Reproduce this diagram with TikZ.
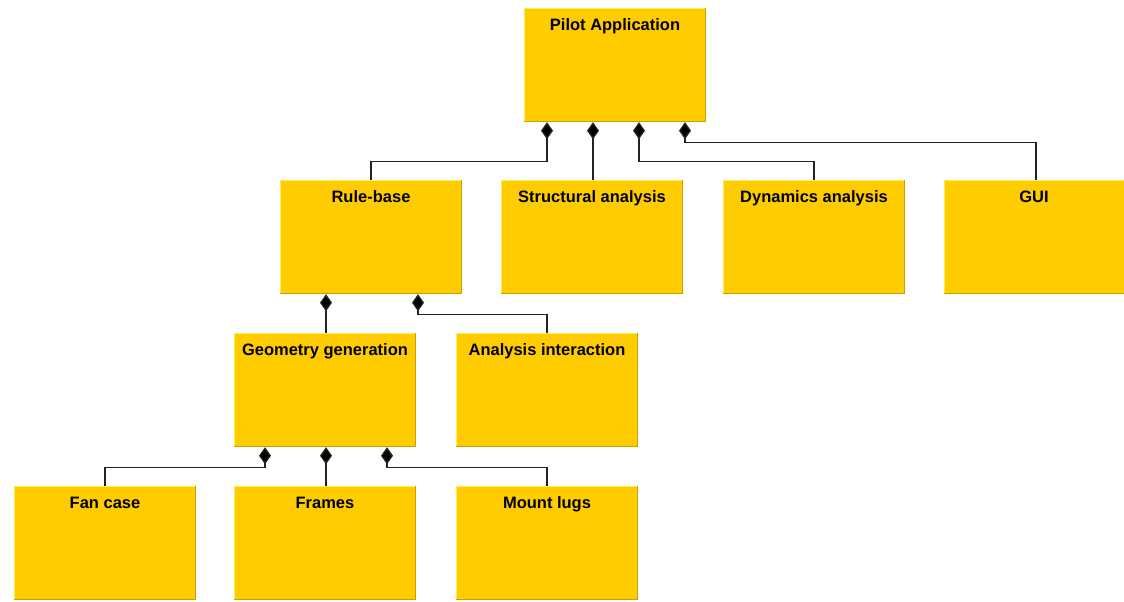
\documentclass[tikz,border=0pt]{standalone}
\usepackage{fontspec}
\setmainfont{Liberation Sans}
\usetikzlibrary{arrows.meta}
\definecolor{boxfill}{HTML}{FFCC00}
\definecolor{boxlight}{HTML}{FFEE55}
\definecolor{boxdark}{HTML}{C9A000}
\definecolor{conncol}{HTML}{222222}
\tikzset{
  box/.style={fill=boxfill, draw=none, minimum width=182pt, minimum height=114pt, inner sep=0pt},
  title/.style={anchor=base, font=\fontsize{16.5}{20}\selectfont\bfseries, text=black, inner sep=0pt},
  conn/.style={draw=conncol, line width=1.3pt},
  comp/.style={conn, {Diamond[length=17pt,width=12pt,fill=black]}-},
}
\begin{document}
\begin{tikzpicture}
\useasboundingbox (0pt,0pt) rectangle (1124pt,-602pt);
% boxes
\node[box] (pilot) at (615pt,-65pt) {};
\node[box] (rule) at (371pt,-237pt) {};
\node[box] (struct) at (592pt,-237pt) {};
\node[box] (dyn) at (814pt,-237pt) {};
\node[box] (gui) at (1035pt,-237pt) {};
\node[box] (geom) at (325pt,-390pt) {};
\node[box] (anal) at (547pt,-390pt) {};
\node[box] (fan) at (105pt,-543pt) {};
\node[box] (frames) at (325pt,-543pt) {};
\node[box] (mount) at (547pt,-543pt) {};
\foreach \n in {pilot,rule,struct,dyn,gui,geom,anal,fan,frames,mount}{
  \draw[boxlight, line width=1pt] ([shift={(0.5pt,0.5pt)}]\n.south west) |- ([shift={(-0.5pt,-0.5pt)}]\n.north east);
  \draw[boxdark, line width=1pt] ([shift={(0.5pt,0.5pt)}]\n.south west) -| ([shift={(-0.5pt,-0.5pt)}]\n.north east);
}
% titles
\node[title] (tpilot) at ([yshift=-23pt]pilot.north) {Pilot Application};
\node[title] (trule) at ([yshift=-23pt]rule.north) {Rule-base};
\node[title] (tstruct) at ([yshift=-23pt]struct.north) {Structural analysis};
\node[title] (tdyn) at ([yshift=-23pt]dyn.north) {Dynamics analysis};
\node[title] (tgui) at ([yshift=-23pt,xshift=-1pt]gui.north) {GUI};
\node[title] (tgeom) at ([yshift=-23pt]geom.north) {Geometry generation};
\node[title] (tanal) at ([yshift=-23pt]anal.north) {Analysis interaction};
\node[title] (tfan) at ([yshift=-23pt]fan.north) {Fan case};
\node[title] (tframes) at ([yshift=-23pt]frames.north) {Frames};
\node[title] (tmount) at ([yshift=-23pt]mount.north) {Mount lugs};
% connectors
\draw[comp] ([xshift=-68pt]pilot.south) -- ++(0,-39pt) -| (rule.north);
\draw[comp] ([xshift=-22pt]pilot.south) -- ([xshift=-22pt]pilot.south |- struct.north);
\draw[comp] ([xshift=24pt]pilot.south) -- ++(0,-39pt) -| (dyn.north);
\draw[comp] ([xshift=70pt]pilot.south) -- ++(0,-20pt) -| ([xshift=1pt]gui.north);
\draw[comp] ([xshift=-45pt]rule.south) -- ([xshift=-45pt]rule.south |- geom.north);
\draw[comp] ([xshift=47pt]rule.south) -- ++(0,-20pt) -| (anal.north);
\draw[comp] ([xshift=-60pt]geom.south) -- ++(0,-20pt) -| (fan.north);
\draw[comp] ([xshift=1pt]geom.south) -- ([xshift=1pt]geom.south |- frames.north);
\draw[comp] ([xshift=62pt]geom.south) -- ++(0,-20pt) -| (mount.north);
\end{tikzpicture}
\end{document}
